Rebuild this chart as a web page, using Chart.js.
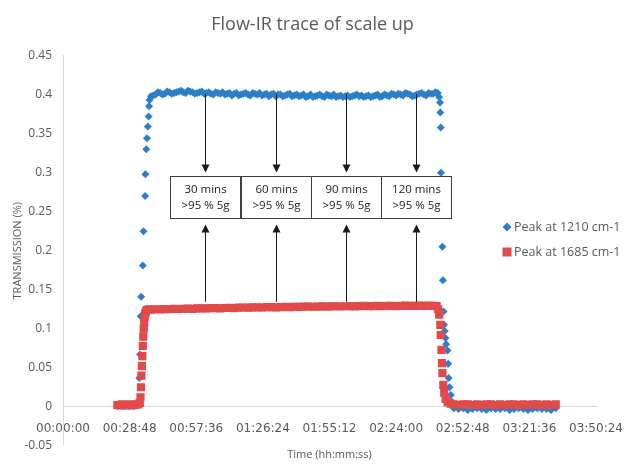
<!DOCTYPE html>
<html>
<head>
<meta charset="utf-8">
<script src="https://cdn.jsdelivr.net/npm/chart.js@4.4.1/dist/chart.umd.min.js"></script>
<style>
  html, body { margin: 0; padding: 0; background: #fff; }
  #wrap { width: 625px; height: 464px; position: relative; }
</style>
</head>
<body>
<div id="wrap"><canvas id="flowIrChart"></canvas></div>
<script>
// time axis in minutes, ticks every 28.8 min (00:28:48)
const xTickLabels = ["00:00:00", "00:28:48", "00:57:36", "01:26:24", "01:55:12", "02:24:00", "02:52:48", "03:21:36", "03:50:24"];
const yTickLabels = ["-0.05", "0", "0.05", "0.1", "0.15", "0.2", "0.25", "0.3", "0.35", "0.4", "0.45"];
const seriesLabels = ["Peak at 1210 cm-1", "Peak at 1685 cm-1"];

const blueTimes = [
  23.5, 24.5, 25.5, 26.5, 27.5, 28.5, 29.5, 30.5, 31.5, 32.5,
  33.0, 33.3, 33.6, 33.8, 34.5, 34.8, 35.5, 35.6, 36.0, 36.3, 36.7, 37.0, 37.2, 37.4,
  38, 40, 42, 44, 46, 48, 50, 52, 54, 56, 58, 60, 62, 64, 66, 68, 70, 72, 74, 76, 78, 80,
  82, 84, 86, 88, 90, 92, 94, 96, 98, 100, 102, 104, 106, 108, 110, 112, 114, 116, 118, 120,
  122, 124, 126, 128, 130, 132, 134, 136, 138, 140, 142, 144, 146, 148, 150, 152, 154, 156, 158, 160, 162,
  // odd-minute readings on the plateau
  39, 41, 43, 45, 47, 49, 51, 53, 55, 57, 59, 61, 63, 65, 67, 69, 71, 73, 75, 77, 79, 81,
  83, 85, 87, 89, 91, 93, 95, 97, 99, 101, 103, 105, 107, 109, 111, 113, 115, 117, 119, 121,
  123, 125, 127, 129, 131, 133, 135, 137, 139, 141, 143, 145, 147, 149, 151, 153, 155, 157, 159, 161,
  162.6, 163.0, 163.1, 163.3, 163.4, 164.0, 164.2, 164.5, 164.7, 165.0, 165.3, 165.6, 166.2, 166.5, 166.7, 167.1, 167.6, 168.2,
  169, 171, 173, 175, 177, 179, 181, 183, 185, 187, 189, 191, 193, 195, 197, 199, 201, 203, 205, 207, 209, 211, 213
];
const blueValues = [
  0.001, 0.002, 0.001, 0.001, 0.002, 0.001, 0.002, 0.001, 0.002, 0.003,
  0.037, 0.067, 0.116, 0.141, 0.181, 0.225, 0.270, 0.298, 0.330, 0.344, 0.359, 0.372, 0.385, 0.393,
  0.398, 0.400, 0.402, 0.401, 0.403, 0.402, 0.404, 0.403, 0.405, 0.403, 0.402, 0.404, 0.402, 0.401, 0.403, 0.401, 0.400, 0.402, 0.401, 0.399, 0.401, 0.400,
  0.402, 0.400, 0.399, 0.401, 0.400, 0.398, 0.400, 0.399, 0.401, 0.399, 0.398, 0.400, 0.398, 0.397, 0.399, 0.398, 0.400, 0.398, 0.397, 0.399,
  0.398, 0.397, 0.399, 0.398, 0.397, 0.399, 0.398, 0.400, 0.398, 0.399, 0.401, 0.399, 0.400, 0.402, 0.400, 0.399, 0.401, 0.400, 0.402, 0.401, 0.402,
  0.399, 0.403, 0.400, 0.404, 0.401, 0.403, 0.405, 0.402, 0.404, 0.401, 0.403, 0.401, 0.403, 0.400, 0.402, 0.403, 0.401, 0.399, 0.402, 0.400, 0.402, 0.399,
  0.401, 0.402, 0.400, 0.398, 0.401, 0.400, 0.398, 0.400, 0.398, 0.400, 0.399, 0.397, 0.400, 0.398, 0.400, 0.397, 0.399, 0.400, 0.398, 0.397,
  0.399, 0.398, 0.400, 0.399, 0.398, 0.397, 0.399, 0.397, 0.400, 0.398, 0.400, 0.401, 0.399, 0.401, 0.398, 0.400, 0.402, 0.399, 0.401, 0.403,
  0.397, 0.390, 0.377, 0.358, 0.300, 0.205, 0.162, 0.122, 0.105, 0.097, 0.088, 0.080, 0.072, 0.055, 0.037, 0.025, 0.015, 0.006,
  -0.002, -0.003, -0.002, -0.004, -0.003, -0.002, -0.003, -0.004, -0.002, -0.003, -0.003, -0.002, -0.004, -0.003, -0.002, -0.003, -0.004, -0.003, -0.002, -0.003, -0.003, -0.004, -0.002
];

const redTimes = [
  23.5, 24.5, 25.5, 26.5, 27.5, 28.5, 29.5, 30.5, 31.5, 32.5,
  33.2, 33.5, 33.7, 33.9, 34.1, 34.3, 34.5, 34.7, 34.9, 35.1, 35.3, 35.5, 35.8, 36.3, 37.0,
  38, 40, 42, 44, 46, 48, 50, 52, 54, 56, 58, 60, 62, 64, 66, 68, 70, 72, 74, 76, 78, 80,
  82, 84, 86, 88, 90, 92, 94, 96, 98, 100, 102, 104, 106, 108, 110, 112, 114, 116, 118, 120,
  122, 124, 126, 128, 130, 132, 134, 136, 138, 140, 142, 144, 146, 148, 150, 152, 154, 156, 158, 160,
  161.5, 162.2, 162.6, 163.1, 163.3, 163.6, 163.8, 164.0, 164.4, 164.8, 165.4, 166.3, 167.6,
  169, 171, 173, 175, 177, 179, 181, 183, 185, 187, 189, 191, 193, 195, 197, 199, 201, 203, 205, 207, 209, 211, 213
];
const redValues = [
  0.002, 0.002, 0.003, 0.002, 0.002, 0.003, 0.002, 0.002, 0.003, 0.003,
  0.005, 0.012, 0.025, 0.040, 0.052, 0.065, 0.078, 0.090, 0.100, 0.108, 0.115, 0.119, 0.122, 0.124, 0.125,
  0.1245, 0.1250, 0.1248, 0.1252, 0.1250, 0.1255, 0.1253, 0.1256, 0.1258, 0.1255, 0.1260, 0.1262, 0.1260, 0.1263, 0.1265, 0.1262, 0.1266, 0.1268, 0.1265, 0.1270, 0.1272, 0.1270,
  0.1273, 0.1275, 0.1272, 0.1276, 0.1278, 0.1275, 0.1278, 0.1280, 0.1278, 0.1282, 0.1280, 0.1283, 0.1285, 0.1282, 0.1284, 0.1286, 0.1283, 0.1287, 0.1288, 0.1285,
  0.1288, 0.1290, 0.1287, 0.1290, 0.1292, 0.1289, 0.1291, 0.1293, 0.1290, 0.1292, 0.1294, 0.1291, 0.1293, 0.1295, 0.1292, 0.1294, 0.1296, 0.1293, 0.1295, 0.1294,
  0.129, 0.125, 0.118, 0.105, 0.092, 0.073, 0.056, 0.043, 0.028, 0.018, 0.010, 0.006, 0.004,
  0.003, 0.002, 0.003, 0.003, 0.002, 0.003, 0.002, 0.003, 0.003, 0.002, 0.003, 0.002, 0.003, 0.003, 0.002, 0.003, 0.002, 0.003, 0.003, 0.002, 0.003, 0.002, 0.003
];

// sampling checkpoints marked on the chart (box centres, minutes)
const checkTimes = [61.5, 92.0, 122.4, 152.6];
const checkLabels = ["30 mins", "60 mins", "90 mins", "120 mins"];
const checkNote = ">95 % 5g";

const BLUE = "#2b7fca";
const RED = "#e14a4b";
const GREY = "#595959";

const toPoints = (times, values) => times.map((t, i) => ({ x: t, y: values[i] }));

function drawArrow(ctx, x, fromY, toY) {
  const dir = toY > fromY ? 1 : -1;
  ctx.beginPath();
  ctx.moveTo(x, fromY);
  ctx.lineTo(x, toY - dir * 7);
  ctx.stroke();
  ctx.beginPath();
  ctx.moveTo(x, toY);
  ctx.lineTo(x - 4, toY - dir * 8);
  ctx.lineTo(x + 4, toY - dir * 8);
  ctx.closePath();
  ctx.fill();
}

const checkBoxes = {
  id: "checkBoxes",
  afterDatasetsDraw(chart) {
    const { ctx, scales: { x, y } } = chart;
    ctx.save();
    ctx.lineWidth = 1;
    checkTimes.forEach((t, i) => {
      const cx = Math.round(x.getPixelForValue(t)) + 0.5;
      const left = Math.round(x.getPixelForValue(t - 15.15)) + 0.5;
      const right = Math.round(x.getPixelForValue(t + 15.15)) + 0.5;
      const top = Math.round(y.getPixelForValue(0.296)) + 0.5;
      const bottom = Math.round(y.getPixelForValue(0.242)) + 0.5;

      ctx.strokeStyle = "#1a1a1a";
      ctx.fillStyle = "#1a1a1a";
      drawArrow(ctx, cx, y.getPixelForValue(0.401), top - 4);
      drawArrow(ctx, cx, y.getPixelForValue(0.1345), bottom + 6);

      ctx.fillStyle = "#ffffff";
      ctx.fillRect(left, top, right - left, bottom - top);
      ctx.strokeStyle = "#3f3f3f";
      ctx.strokeRect(left, top, right - left, bottom - top);

      ctx.fillStyle = "#222";
      ctx.font = "11.5px 'Open Sans'";
      ctx.textAlign = "center";
      ctx.textBaseline = "middle";
      ctx.fillText(checkLabels[i], cx, top + 13);
      ctx.fillText(checkNote, cx, top + 29);
    });
    ctx.restore();
  }
};

const sideLegend = {
  id: "sideLegend",
  afterDraw(chart) {
    const { ctx } = chart;
    ctx.save();
    ctx.font = "12.5px 'Open Sans'";
    ctx.textBaseline = "middle";
    ctx.textAlign = "left";
    chart.data.datasets.forEach((ds, i) => {
      const ly = 227 + i * 25;
      const lx = 507;
      ctx.fillStyle = ds.backgroundColor;
      ctx.beginPath();
      if (ds.pointStyle === "rectRot") {
        ctx.moveTo(lx, ly - 4.5);
        ctx.lineTo(lx + 4.5, ly);
        ctx.lineTo(lx, ly + 4.5);
        ctx.lineTo(lx - 4.5, ly);
      } else {
        ctx.rect(lx - 4.5, ly - 4.5, 9, 9);
      }
      ctx.closePath();
      ctx.fill();
      ctx.fillStyle = GREY;
      ctx.fillText(ds.label, lx + 7, ly);
    });
    ctx.restore();
  }
};

const ctx = document.getElementById("flowIrChart").getContext("2d");
new Chart(ctx, {
  type: "scatter",
  data: {
    datasets: [
      {
        label: seriesLabels[0],
        data: toPoints(blueTimes, blueValues),
        pointStyle: "rectRot",
        pointRadius: 4,
        pointBorderWidth: 0,
        backgroundColor: BLUE,
        borderColor: BLUE,
        order: 2
      },
      {
        label: seriesLabels[1],
        data: toPoints(redTimes, redValues),
        pointStyle: "rect",
        pointRadius: 5.8,
        pointBorderWidth: 0,
        backgroundColor: RED,
        borderColor: RED,
        order: 1
      }
    ]
  },
  options: {
    responsive: true,
    maintainAspectRatio: false,
    animation: false,
    events: [],
    layout: { padding: 0 },
    plugins: {
      legend: { display: false },
      tooltip: { enabled: false },
      title: {
        display: true,
        text: "Flow-IR trace of scale up",
        color: GREY,
        font: { family: "'Open Sans'", size: 18, weight: "normal" },
        padding: { top: 14, bottom: 20 }
      },
      subtitle: {
        display: true,
        position: "bottom",
        fullSize: false,
        text: "Time (hh:mm:ss)",
        color: GREY,
        font: { family: "'Open Sans'", size: 11 },
        padding: { top: 2, bottom: 0 }
      }
    },
    scales: {
      x: {
        type: "linear",
        position: { y: 0 },
        min: 0,
        max: 230.4,
        // the end labels may hang over the plot edges, as in the original
        afterFit: (scale) => { scale.paddingLeft = 0; scale.paddingRight = 0; },
        grid: { display: false, drawTicks: false },
        border: { display: true, color: "#d9d9d9", width: 1 },
        ticks: {
          stepSize: 28.8,
          padding: 15,
          maxRotation: 0,
          autoSkip: false,
          color: GREY,
          font: { family: "'DejaVu Sans'", size: 12 },
          callback: (value, index) => xTickLabels[index]
        }
      },
      y: {
        min: -0.05,
        max: 0.45,
        afterFit: (scale) => { scale.width = 63; },
        grid: { display: false, drawTicks: false },
        border: { display: true, color: "#d9d9d9", width: 1 },
        title: {
          display: true,
          text: "TRANSMISSION (%)",
          color: GREY,
          font: { family: "'Open Sans'", size: 11 },
          padding: { top: 11, bottom: 0 }
        },
        ticks: {
          stepSize: 0.05,
          padding: 11,
          color: GREY,
          font: { family: "'Open Sans'", size: 12 },
          callback: (value, index) => yTickLabels[index]
        }
      },
      // empty right-hand axis that only reserves the margin beside the plot
      yRight: {
        position: "right",
        min: 0,
        max: 1,
        afterFit: (scale) => { scale.width = 29; },
        grid: { display: false, drawTicks: false },
        border: { display: false },
        ticks: { display: false }
      }
    }
  },
  plugins: [checkBoxes, sideLegend]
});
</script>
</body>
</html>
